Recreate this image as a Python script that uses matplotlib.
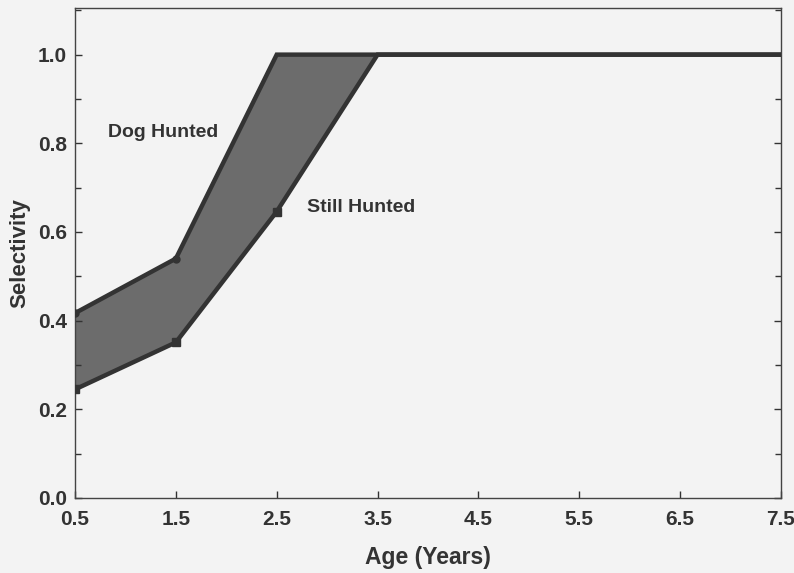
import matplotlib
matplotlib.use("Agg")
import matplotlib.pyplot as plt
from matplotlib.ticker import MultipleLocator

age = [0.5, 1.5, 2.5, 3.5, 4.5, 5.5, 6.5, 7.5]
dog_hunted = [0.417, 0.54, 1.0, 1.0, 1.0, 1.0, 1.0, 1.0]
still_hunted = [0.245, 0.351, 0.646, 1.0, 1.0, 1.0, 1.0, 1.0]
xticks = [0.5, 1.5, 2.5, 3.5, 4.5, 5.5, 6.5, 7.5]
yticks = [0.0, 0.2, 0.4, 0.6, 0.8, 1.0]

plt.rcParams['font.family'] = ['Liberation Sans', 'DejaVu Sans']
bg = '#f3f3f3'
ink = '#333333'

fig = plt.figure(figsize=(7.94, 5.73), dpi=100, facecolor=bg)
ax = fig.add_axes([0.0945, 0.1309, 0.889, 0.855], facecolor=bg)

ax.fill_between(age, still_hunted, dog_hunted, color='#6c6c6c', lw=0, zorder=1)
ax.plot(age, dog_hunted, color=ink, lw=3.2, marker='o', ms=5, markevery=[0, 1],
        zorder=3, solid_joinstyle='miter')
ax.plot(age, still_hunted, color=ink, lw=3.2, marker='s', ms=5.5, markevery=[0, 1, 2],
        zorder=3, solid_joinstyle='miter')

ax.set_xlim(0.5, 7.5)
ax.set_ylim(0, 1.105)
ax.set_xticks(xticks)
ax.set_yticks(yticks)
ax.set_xticklabels([f"{v:.1f}" for v in xticks])
ax.set_yticklabels([f"{v:.1f}" for v in yticks])
ax.yaxis.set_minor_locator(MultipleLocator(0.1))
ax.tick_params(axis='both', which='both', direction='in', colors=ink,
               labelsize=15, width=1.0, right=True)
ax.tick_params(which='major', length=5)
ax.tick_params(which='minor', length=4)
ax.tick_params(axis='x', pad=9)
ax.tick_params(axis='y', pad=6)
for lab in ax.get_xticklabels() + ax.get_yticklabels():
    lab.set_fontweight('bold')
    lab.set_color(ink)
for s in ax.spines.values():
    s.set_color('#444444')
    s.set_linewidth(1.0)

ax.text(0.83, 0.815, 'Dog Hunted', fontsize=14, fontweight='bold', color=ink)
ax.text(2.8, 0.645, 'Still Hunted', fontsize=14, fontweight='bold', color=ink)

ax.set_xlabel('Age (Years)', fontsize=16.5, fontweight='bold', color=ink, labelpad=12)
ax.set_ylabel('Selectivity', fontsize=16, fontweight='bold', color=ink, labelpad=5)

fig.savefig('out.png', dpi=100, facecolor=bg)
